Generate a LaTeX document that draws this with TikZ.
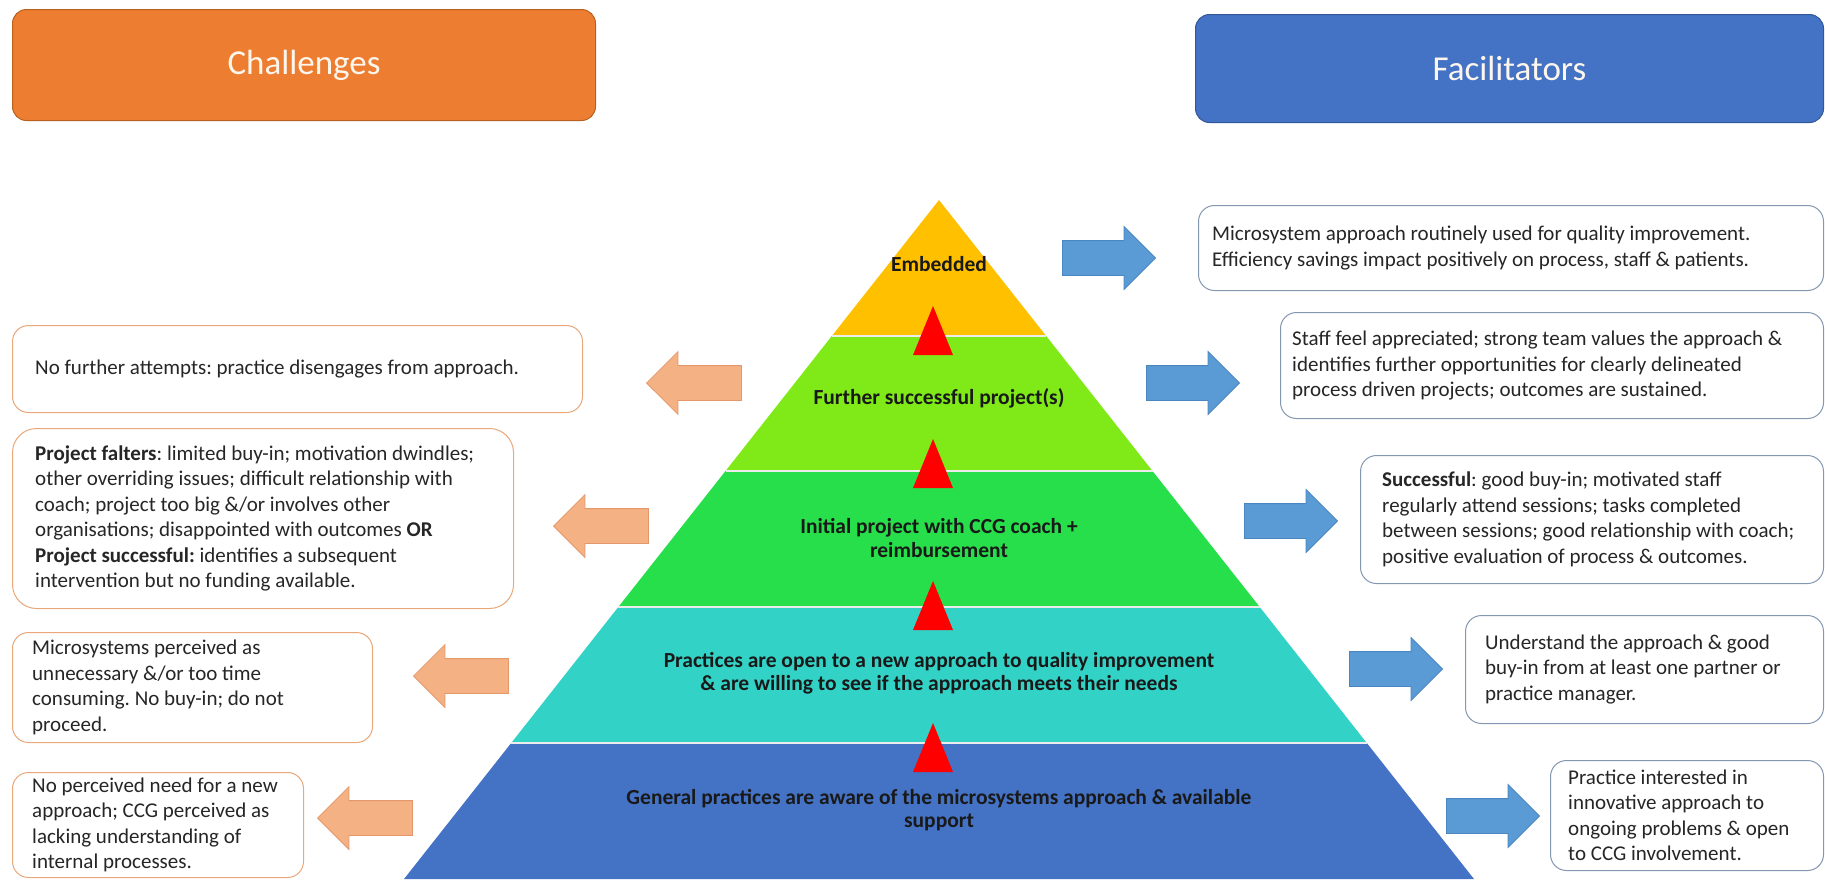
\documentclass[tikz,border=0pt]{standalone}
\usepackage{fontspec}
\setmainfont{Carlito}
\frenchspacing
\usetikzlibrary{positioning,shapes.arrows}

\definecolor{challorange}{HTML}{ED7D31}
\definecolor{challedge}{HTML}{B8611F}
\definecolor{facilblue}{HTML}{4472C4}
\definecolor{faciledge}{HTML}{33589A}
\definecolor{headtext}{HTML}{FDF6EC}
\definecolor{bodytext}{HTML}{262626}
\definecolor{lboxedge}{HTML}{E9A77A}
\definecolor{rboxedge}{HTML}{8497B0}
\definecolor{peach}{HTML}{F4B183}
\definecolor{peachedge}{HTML}{E3976A}
\definecolor{skyblue}{HTML}{5B9BD5}
\definecolor{skyedge}{HTML}{4A86C0}
\definecolor{layerA}{HTML}{FFC000}
\definecolor{layerB}{HTML}{7FEA17}
\definecolor{layerC}{HTML}{27DF4B}
\definecolor{layerD}{HTML}{33D2C6}
\definecolor{layerE}{HTML}{4472C4}

\begin{document}
\begin{tikzpicture}[x=1pt,y=-1pt,
    header/.style={draw, line width=1pt, rounded corners=14pt, anchor=north west,
      text=headtext, font=\fontsize{35}{42}\selectfont},
    cbox/.style={draw=lboxedge, line width=1pt, fill=white, rounded corners=16pt,
      anchor=north west},
    fbox/.style={draw=rboxedge, line width=1pt, fill=white, rounded corners=16pt,
      anchor=north west},
    btext/.style={inner sep=0pt, align=left, text=bodytext,
      font=\fontsize{21}{25.5}\selectfont},
    ptext/.style={inner sep=0pt, align=center, text=black!90,
      font=\bfseries\fontsize{21.5}{23.5}\selectfont},
    backarrow/.style={single arrow, shape border rotate=180, fill=peach, draw=peachedge,
      line width=0.8pt, minimum height=95pt, inner xsep=0pt, inner ysep=17pt,
      single arrow head extend=14pt, anchor=tip},
    fwdarrow/.style={single arrow, fill=skyblue, draw=skyedge,
      line width=0.8pt, minimum height=93pt, inner xsep=0pt, inner ysep=17pt,
      single arrow head extend=14pt, anchor=tip}]
  \useasboundingbox (0,0) rectangle (1825,879);

  % headings
  \node[header, fill=challorange, draw=challedge, minimum width=583pt,
    minimum height=111pt] (challenges) at (12,9) {Challenges};
  \node[header, fill=facilblue, draw=faciledge, minimum width=628pt,
    minimum height=108pt] (facilitators) at (1195,14) {Facilitators};

  % pyramid
  \fill[layerA] (939,200) -- (1046.2,336) -- (831.8,336) -- cycle;
  \fill[layerB] (831.8,336) -- (1046.2,336) -- (1152.5,471) -- (725.5,471) -- cycle;
  \fill[layerC] (725.5,471) -- (1152.5,471) -- (1259.7,607) -- (618.3,607) -- cycle;
  \fill[layerD] (618.3,607) -- (1259.7,607) -- (1366.8,743) -- (511.2,743) -- cycle;
  \fill[layerE] (511.2,743) -- (1366.8,743) -- (1474,879) -- (404,879) -- cycle;
  \begin{scope}[white!85!gray, line width=1.5pt]
    \draw (831.8,336) -- (1046.2,336);
    \draw (725.5,471) -- (1152.5,471);
    \draw (618.3,607) -- (1259.7,607);
    \draw (511.2,743) -- (1366.8,743);
  \end{scope}

  % steps up the pyramid
  \foreach \t/\b in {306/355, 439/488, 581/630, 723/772}
    \fill[red] (933,\t) -- (953,\b) -- (913,\b) -- cycle;

  \node[ptext] (embedded) at (939,264) {Embedded};
  \node[ptext] (further) at (939,398) {Further successful project(s)};
  \node[ptext] (initial) at (939,538) {Initial project with CCG coach +\\reimbursement};
  \node[ptext] (open) at (939,673)
    {Practices are open to a new approach to quality improvement\\
     \& are willing to see if the approach meets their needs};
  \node[ptext] (aware) at (939,810)
    {General practices are aware of the microsystems approach \& available\\support};

  % challenges
  \node[cbox, minimum width=570pt, minimum height=87pt] (nofurther) at (12,325) {};
  \node[btext, right=23pt of nofurther.west] (nofurthertxt)
    {No further attempts: practice disengages from approach.};
  \node[cbox, minimum width=501pt, minimum height=180pt, rounded corners=24pt]
    (falters) at (12,428) {};
  \node[btext, right=23pt of falters.west] (falterstxt)
    {\textbf{Project falters}: limited buy-in; motivation dwindles;\\
     other overriding issues; difficult relationship with\\
     coach; project too big \&/or involves other\\
     organisations; disappointed with outcomes \textbf{OR}\\
     \textbf{Project successful:} identifies a subsequent\\
     intervention but no funding available.};
  \node[cbox, minimum width=360pt, minimum height=110pt] (noneed) at (12,632) {};
  \node[btext, right=20pt of noneed.west] (noneedtxt)
    {Microsystems perceived as\\
     unnecessary \&/or too time\\
     consuming. No buy-in; do not\\
     proceed.};
  \node[cbox, minimum width=291pt, minimum height=105pt] (nointerest) at (12,772) {};
  \node[btext, right=20pt of nointerest.west] (nointeresttxt)
    {No perceived need for a new\\
     approach; CCG perceived as\\
     lacking understanding of\\
     internal processes.};

  % facilitators
  \node[fbox, minimum width=625pt, minimum height=85pt] (routine) at (1198,205) {};
  \node[btext, right=14pt of routine.west] (routinetxt)
    {Microsystem approach routinely used for quality improvement.\\
     Efficiency savings impact positively on process, staff \& patients.};
  \node[fbox, minimum width=543pt, minimum height=106pt] (valued) at (1280,312) {};
  \node[btext, right=12pt of valued.west] (valuedtxt)
    {Staff feel appreciated; strong team values the approach \&\\
     identifies further opportunities for clearly delineated\\
     process driven projects; outcomes are sustained.};
  \node[fbox, minimum width=463pt, minimum height=128pt] (success) at (1360,455) {};
  \node[btext, right=22pt of success.west] (successtxt)
    {\textbf{Successful}: good buy-in; motivated staff\\
     regularly attend sessions; tasks completed\\
     between sessions; good relationship with coach;\\
     positive evaluation of process \& outcomes.};
  \node[fbox, minimum width=358pt, minimum height=108pt] (buyin) at (1465,615) {};
  \node[btext, right=20pt of buyin.west] (buyintxt)
    {Understand the approach \& good\\
     buy-in from at least one partner or\\
     practice manager.};
  \node[fbox, minimum width=273pt, minimum height=110pt] (interest) at (1550,760) {};
  \node[btext, right=18pt of interest.west] (interesttxt)
    {Practice interested in\\
     innovative approach to\\
     ongoing problems \& open\\
     to CCG involvement.};

  % block arrows
  \node[backarrow] (back1) at (646,383) {};
  \node[backarrow] (back2) at (553,526) {};
  \node[backarrow] (back3) at (413,676) {};
  \node[backarrow] (back4) at (317,818) {};
  \node[fwdarrow] (fwd1) at (1156,258) {};
  \node[fwdarrow] (fwd2) at (1240,383) {};
  \node[fwdarrow] (fwd3) at (1338,521) {};
  \node[fwdarrow] (fwd4) at (1443,669) {};
  \node[fwdarrow] (fwd5) at (1540,816) {};
\end{tikzpicture}
\end{document}
